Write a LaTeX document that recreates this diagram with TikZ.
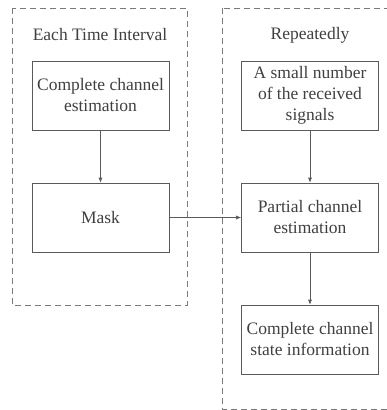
\documentclass[tikz,border=0pt]{standalone}
\usepackage{fontspec}
\setmainfont{Liberation Serif}
\usetikzlibrary{positioning, arrows.meta}
\tikzset{>={Latex[length=5pt,width=4pt]}}
\definecolor{linegray}{HTML}{5A5A5A}
\definecolor{dashgray}{HTML}{7A7A7A}
\definecolor{textgray}{HTML}{404040}

\begin{document}
\begin{tikzpicture}[x=1pt,y=-1pt,
    every node/.style={font=\fontsize{17.5}{21}\selectfont, text=textgray},
    stepbox/.style={draw=linegray, semithick, minimum width=137pt, minimum height=69pt, align=center, inner sep=2pt},
    group/.style={draw=dashgray, thick, dash pattern=on 6pt off 4pt},
    flow/.style={->, draw=linegray, semithick}]

    \useasboundingbox (0,0) rectangle (387,410);

    %two dashed frames: one per time interval, one repeated
    \draw[group] (12,8) rectangle (187,305);
    \draw[group] (222,8) rectangle (395,409);

    \node (interval) at (100,35) {Each Time Interval};
    \node (repeat) at (310,35) {Repeatedly};

    %left column
    \node[stepbox] (full) at (100.5,95.5) {Complete channel\\estimation};
    \node[stepbox] (mask) at (100.5,217.5) {Mask};

    %right column
    \node[stepbox] (signals) at (310,95.5) {A small number\\of the received\\signals};
    \node[stepbox] (partial) at (310,217.5) {Partial channel\\estimation};
    \node[stepbox] (csi) at (310,339.5) {Complete channel\\state information};

    \draw[flow] (full) -- (mask);
    \draw[flow] (signals) -- (partial);
    \draw[flow] (partial) -- (csi);
    \draw[flow] (mask) -- (partial);

\end{tikzpicture}
\end{document}
